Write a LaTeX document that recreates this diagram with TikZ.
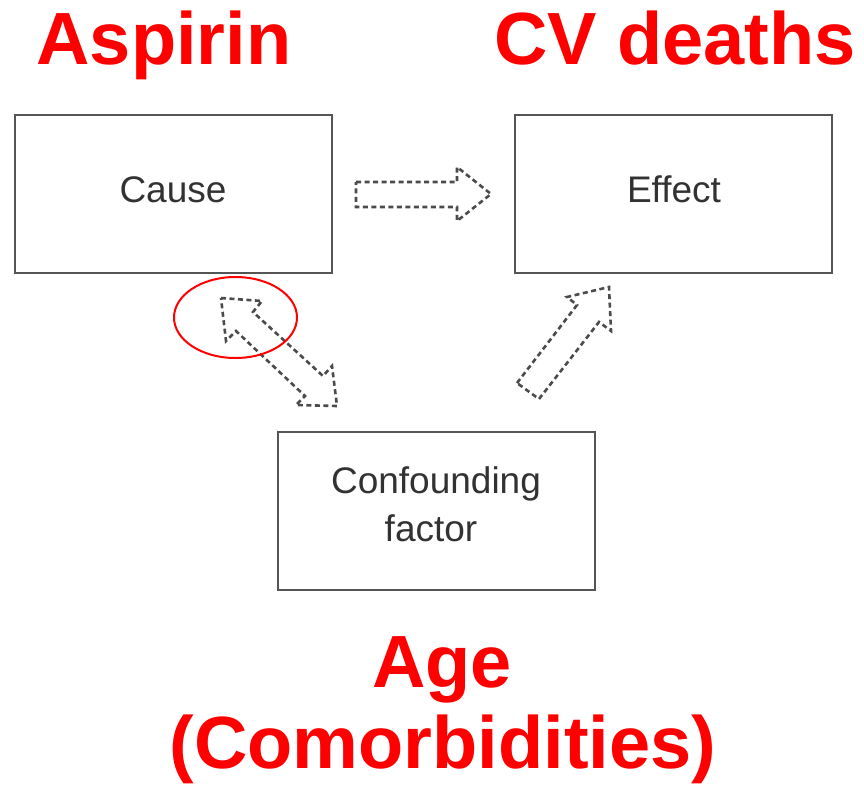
\documentclass[tikz,border=0pt]{standalone}
\usepackage{fontspec}
\setmainfont{Liberation Sans}
\begin{document}
\begin{tikzpicture}[x=1pt,y=-1pt,
  box/.style={draw={rgb,255:red,85;green,85;blue,85}, line width=2.8pt,
    minimum width=317pt, minimum height=158pt, inner sep=0pt},
  lbl/.style={anchor=base, inner sep=0pt, text={rgb,255:red,50;green,50;blue,50},
    font=\fontsize{37}{44}\selectfont},
  note/.style={anchor=base, inner sep=0pt, text={rgb,255:red,255;green,0;blue,0},
    font=\fontsize{74}{80}\selectfont\bfseries},
  hollow/.style={draw={rgb,255:red,75;green,75;blue,75}, line width=2.6pt,
    dash pattern=on 5pt off 3.5pt, line join=miter}
]
\useasboundingbox (0,0) rectangle (864,784);

% boxes
\node[box] (cause) at (173.5,194) {};
\node[box] (effect) at (673.5,194) {};
\node[box] (conf) at (436.5,511) {};

% box labels
\node[lbl] (causetxt) at (173,202) {Cause};
\node[lbl] (effecttxt) at (674,202) {Effect};
\node[lbl] (conftxt1) at (436,493) {Confounding};
\node[lbl] (conftxt2) at (431,541) {factor};

% hollow arrow: cause -> effect
\draw[hollow] (356,182) -- (457,182) -- (457,167) -- (491,194) -- (457,221)
  -- (457,207) -- (356,207) -- cycle;

% hollow double arrow: cause <-> confounding factor
\draw[hollow] (221,298) -- (262,301) -- (253,312) -- (323,376) -- (332,366)
  -- (337,406) -- (296,405) -- (305,396) -- (236,331) -- (226,341) -- cycle;

% hollow arrow: confounding factor -> effect
\draw[hollow] (517,383) -- (577,305) -- (567,297) -- (609,287) -- (611,331)
  -- (599,322) -- (539,399) -- cycle;

% red highlight ring
\draw[red, line width=2pt] (235.5,317.5) ellipse [x radius=61.5, y radius=40.5];

% red annotations
\node[note] (aspirin) at (164,64) {Aspirin};
\node[note] (cvdeaths) at (675,64) {CV deaths};
\node[note] (age) at (442,687) {Age};
\node[note] (comorb) at (443,768) {(Comorbidities)};
\end{tikzpicture}
\end{document}
